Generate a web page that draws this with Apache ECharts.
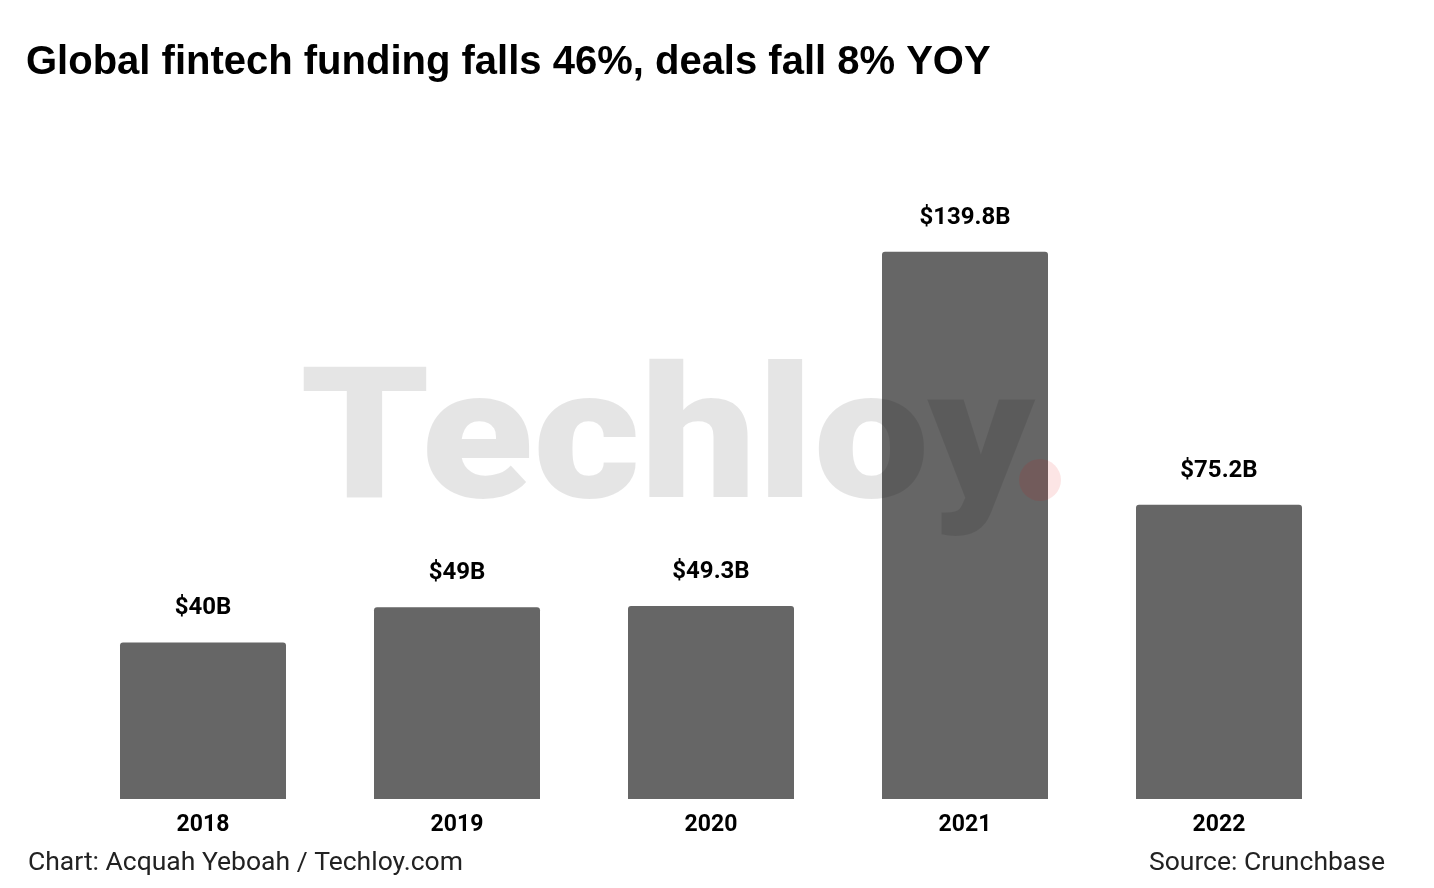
<!DOCTYPE html>
<html>
<head>
<meta charset="utf-8">
<script src="https://cdn.jsdelivr.net/npm/echarts@6/dist/echarts.min.js"></script>
<style>
  html, body { margin: 0; padding: 0; background: #fff; }
  #chart { width: 1434px; height: 888px; }
</style>
</head>
<body>
<div id="chart"></div>
<script>
// data
const years = ['2018', '2019', '2020', '2021', '2022'];
const funding = [40, 49, 49.3, 139.8, 75.2];   // $ billions
const fundingLabels = ['$40B', '$49B', '$49.3B', '$139.8B', '$75.2B'];

const chart = echarts.init(document.getElementById('chart'));

const option = {
  backgroundColor: '#fff',
  animation: false,
  title: {
    text: 'Global fintech funding falls 46%, deals fall 8% YOY',
    left: 21,
    top: 38,
    textStyle: {
      fontFamily: 'Liberation Sans',
      fontWeight: 'bold',
      fontSize: 40,
      color: '#000'
    }
  },
  grid: { left: 76, right: 88, top: 251, bottom: 89, containLabel: false },
  xAxis: {
    type: 'category',
    data: years,
    axisLine: { show: false },
    axisTick: { show: false },
    axisLabel: {
      margin: 15,
      fontFamily: 'Roboto',
      fontWeight: 'bold',
      fontSize: 23,
      color: '#000'
    }
  },
  yAxis: {
    type: 'value',
    min: 0,
    max: 140,
    show: false
  },
  series: [{
    type: 'bar',
    data: funding,
    barWidth: 166,
    itemStyle: { color: '#666666', borderRadius: [3, 3, 0, 0] },
    label: {
      show: true,
      position: 'top',
      distance: 22,
      formatter: p => fundingLabels[p.dataIndex],
      fontFamily: 'Roboto',
      fontWeight: 'bold',
      fontSize: 24,
      color: '#000'
    }
  }],
  graphic: [
    // watermark, drawn over the bars
    {
      type: 'text',
      z: 100,
      left: 300,
      top: 359,
      scaleX: 1.12,
      style: {
        text: 'Techloy',
        font: '900 184px Roboto',
        fill: 'rgba(0,0,0,0.1)'
      }
    },
    {
      type: 'circle',
      z: 100,
      shape: { cx: 1040, cy: 480, r: 21 },
      style: { fill: 'rgba(230,0,0,0.1)' }
    },
    {
      type: 'text',
      left: 28,
      top: 850,
      style: {
        text: 'Chart: Acquah Yeboah / Techloy.com',
        font: '26.5px Roboto',
        fill: '#222'
      }
    },
    {
      type: 'text',
      right: 49,
      top: 850,
      style: {
        text: 'Source: Crunchbase',
        font: '26.5px Roboto',
        fill: '#222'
      }
    }
  ]
};

chart.setOption(option);
</script>
</body>
</html>
